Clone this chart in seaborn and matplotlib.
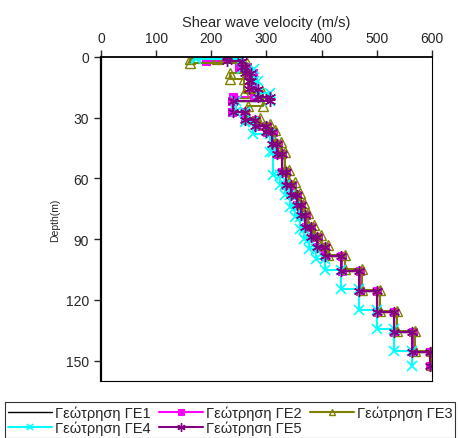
import numpy as np
import pandas as pd
import matplotlib
matplotlib.use('Agg')
import matplotlib.pyplot as plt
import seaborn as sns

# layer boundaries (depth, m) and layer velocities (m/s) per borehole
bounds_main = [0, 2, 5, 8, 12, 16, 20, 22, 27, 31, 34, 37, 43, 48, 57, 63, 68, 73,
               78, 84, 89, 94, 98.5, 105.6, 115.7, 126, 136, 145.6, 152.6]
vs_ge1 = [195, 248, 262, 270, 275, 282, 290, 238, 262, 280, 300, 310, 320, 328,
          335, 345, 355, 362, 370, 380, 392, 406, 436, 468, 500, 531, 564, 596]
vs_ge2 = [191, 250, 265, 275, 272, 278, 240, 237, 262, 281, 301, 311, 321, 329,
          336, 346, 356, 363, 371, 381, 393, 407, 437, 469, 501, 532, 565, 597]
vs_ge5 = [228, 255, 262, 272, 268, 285, 306, 239, 262, 280, 300, 310, 320, 328,
          335, 345, 355, 362, 370, 380, 392, 406, 436, 468, 500, 531, 564, 596]

bounds_ge3 = [0, 1, 3, 8, 11, 18, 24, 30, 33, 36, 42, 47, 56, 62, 67, 72, 77, 83,
              88, 93, 97.7, 104.8, 115, 125.3, 135.3, 145, 152]
vs_ge3 = [210, 161, 264, 234, 260, 294, 266, 288, 306, 316, 326, 334, 341, 351,
          361, 368, 376, 386, 398, 412, 442, 474, 506, 537, 570, 600]

bounds_ge4 = [0, 1, 6, 12, 18, 22, 27, 32, 38, 47, 58.5, 63, 68, 74, 79, 85, 90,
              95, 100, 105, 114.5, 124.8, 134.6, 145.3, 152.7]
vs_ge4 = [173, 255, 278, 285, 306, 245, 262, 276, 306, 312, 324, 333, 342, 352,
          360, 368, 378, 390, 406, 436, 468, 500, 531, 564]

labels = ['Γεώτρηση ΓΕ1', 'Γεώτρηση ΓΕ2', 'Γεώτρηση ΓΕ3', 'Γεώτρηση ΓΕ4', 'Γεώτρηση ΓΕ5']


def step_profile(bounds, vs):
    """Turn layer boundaries and velocities into a step profile."""
    b = np.asarray(bounds, dtype=float)
    v = np.repeat(np.asarray(vs, dtype=float), 2)
    d = np.column_stack([b[:-1], b[1:]]).ravel()
    return pd.DataFrame({'v': v, 'depth': d})


sns.set_style('ticks')
plt.rcParams['font.family'] = ['Liberation Sans', 'DejaVu Sans']

fig = plt.figure(figsize=(4.59, 4.39), dpi=100)
ax = fig.add_axes([0.22, 0.130, 0.721, 0.738])

series = [
    (bounds_main, vs_ge1, 'black', dict(marker='None', lw=1.0)),
    (bounds_main, vs_ge2, '#FF00FF', dict(marker='s', markersize=6, mfc='#FF00FF', mec='#FF00FF', lw=1.5)),
    (bounds_ge3, vs_ge3, '#808000', dict(marker='^', markersize=6.5, mfc='none', mec='#808000', mew=1.0, lw=1.5)),
    (bounds_ge4, vs_ge4, '#00FFFF', dict(marker='x', markersize=6.5, mec='#00FFFF', mew=1.2, lw=1.5)),
    (bounds_main, vs_ge5, '#800080', dict(marker=(6, 2, 0), markersize=8, mec='#800080', mew=1.0, lw=1.5)),
]

for (b, v, col, kw), lab in zip(series, labels):
    df = step_profile(b, v)
    sns.lineplot(data=df, x='v', y='depth', sort=False, estimator=None, ax=ax,
                 label=lab, color=col)
    line = ax.lines[-1]
    line.set_linestyle('-')
    line.set_dashes([])
    plt.setp(line, **kw)

ax.set_xlim(0, 600)
ax.set_ylim(160, 0)
ax.set_xticks(np.arange(0, 601, 100))
ax.set_yticks(np.arange(0, 151, 30))
ax.xaxis.tick_top()
ax.xaxis.set_label_position('top')
ax.set_xlabel('Shear wave velocity (m/s)', fontsize=10.5, labelpad=4)
ax.set_ylabel('Depth(m)', fontsize=7.5, labelpad=4)
ax.tick_params(axis='both', labelsize=10, direction='out', length=5, width=1)
for s in ax.spines.values():
    s.set_visible(True)
    s.set_color('black')
ax.spines['left'].set_linewidth(1.6)
ax.spines['top'].set_linewidth(1.3)

ax.get_legend().remove()
handles = ax.lines[:5]
order = [0, 3, 1, 4, 2]
leg = fig.legend([handles[i] for i in order], [labels[i] for i in order],
                 loc='lower left', bbox_to_anchor=(0.011, 0.0),
                 ncol=3, fontsize=10.5, handlelength=3.0, markerscale=0.75,
                 handletextpad=0.2, columnspacing=0.6, labelspacing=0.05,
                 borderpad=0.2, frameon=True, fancybox=False, edgecolor='black',
                 borderaxespad=0)
leg.get_frame().set_linewidth(0.8)

fig.savefig('out.png', dpi=100)
